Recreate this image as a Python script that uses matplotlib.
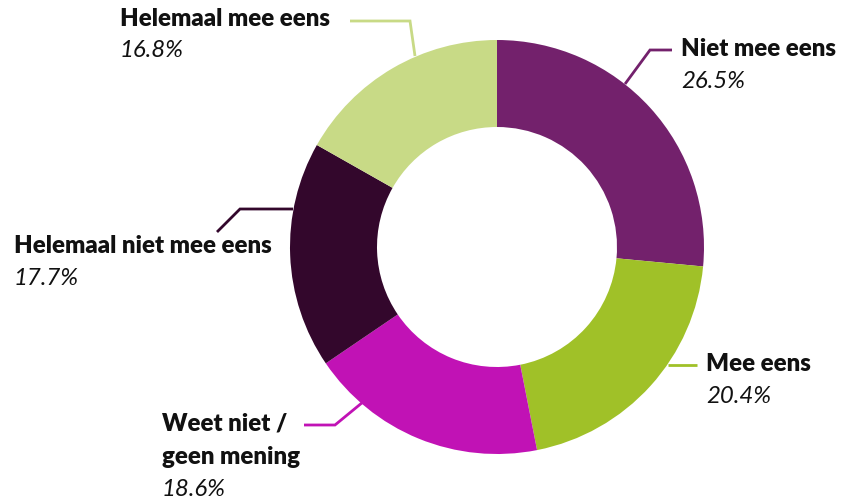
import matplotlib
matplotlib.use("Agg")
import matplotlib.pyplot as plt
import numpy as np

labels = ["Niet mee eens", "Mee eens", "Weet niet /\ngeen mening", "Helemaal niet mee eens", "Helemaal mee eens"]
values = [26.5, 20.4, 18.6, 17.7, 16.8]
pct_labels = ["26.5%", "20.4%", "18.6%", "17.7%", "16.8%"]
colors = ["#73216C", "#A0C128", "#C112B5", "#33072C", "#C8DA86"]

W, H = 843, 502
fig = plt.figure(figsize=(W / 100, H / 100), dpi=100)
ax = fig.add_axes([0, 0, 1, 1])

cx, cy = 497, H - 248
R = 207
r_in = 120
ax.pie(values, colors=colors, startangle=90, counterclock=False, radius=R,
       center=(cx, cy), frame=True,
       wedgeprops=dict(width=R - r_in, edgecolor="none", linewidth=0))
ax.set_xlim(0, W)
ax.set_ylim(0, H)
ax.set_aspect("equal")
ax.axis("off")

def py(y):
    return H - y

# leader lines (pixel coords in image space) per slice
leaders = [
    [(625, 85), (650, 51), (672, 51)],
    [(668, 366), (697, 366)],
    [(363, 403), (335, 426), (304, 426)],
    [(293, 210), (240, 210), (217, 233)],
    [(415, 57), (410, 22), (350, 22)],
]
# text anchors: (x, y_top of name, y_top of percent)
text_pos = [
    (681, 38, 71),
    (706, 353, 386),
    (162, 413, 479),
    (14, 235, 268),
    (120, 8, 40),
]

font = "Lato"
for i in range(len(values)):
    pts = leaders[i]
    ax.plot([p[0] for p in pts], [py(p[1]) for p in pts], color=colors[i], lw=2,
            solid_capstyle="butt", solid_joinstyle="miter")
    x, yn, yp = text_pos[i]
    ax.text(x, py(yn), labels[i], fontsize=17.3, fontweight="heavy", family=font,
            color="#111111", ha="left", va="top", linespacing=1.6)
    ax.text(x, py(yp), pct_labels[i], fontsize=17.3, fontstyle="italic", family=font,
            color="#111111", ha="left", va="top")

fig.savefig("out.png", dpi=100)
